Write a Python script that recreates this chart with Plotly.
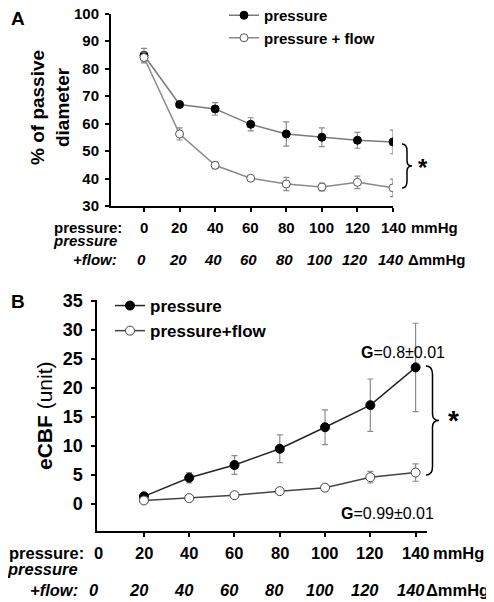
import plotly.graph_objects as go

W, H = 494, 602

# ---------------- data ----------------
pressure_a = [0, 20, 40, 60, 80, 100, 120, 140]
a_pressure = [84.8, 66.9, 65.3, 59.7, 56.2, 55.0, 53.9, 53.3]
a_pressure_err = [2.5, 1.0, 2.3, 2.4, 4.4, 3.4, 2.9, 4.3]
a_flow = [84.0, 56.2, 44.8, 40.1, 38.0, 36.9, 38.6, 36.6]
a_flow_err = [2.0, 2.2, 1.2, 0.8, 2.4, 1.4, 2.3, 3.2]

pressure_b = [20, 40, 60, 80, 100, 120, 140]
b_pressure = [1.3, 4.5, 6.7, 9.5, 13.2, 17.0, 23.5]
b_pressure_err = [0.3, 0.9, 1.6, 2.4, 3.0, 4.5, 7.6]
b_flow = [0.6, 1.0, 1.5, 2.2, 2.8, 4.6, 5.4]
b_flow_err = [0.2, 0.2, 0.3, 0.3, 0.4, 1.0, 1.5]

tick_values = [0, 20, 40, 60, 80, 100, 120, 140]
tick_labels = ["0", "20", "40", "60", "80", "100", "120", "140"]

series_names_a = ["pressure", "pressure + flow"]
series_names_b = ["pressure", "pressure+flow"]

FONT = "Arial, Liberation Sans, sans-serif"
ERR = "#8a8a8a"

# page is shown with an 8px body margin: positions below are in window pixels
OFF = 8


def px(x):
    return (x - OFF) / W


def py(y):
    return 1 - (y - OFF) / H


fig = go.Figure()

# ---- Panel A ----
fig.add_trace(go.Scatter(
    x=pressure_a, y=a_pressure, name=series_names_a[0], mode="lines+markers",
    xaxis="x", yaxis="y", legend="legend",
    line=dict(color="#7a7a7a", width=1.5),
    marker=dict(symbol="circle", size=8, color="black", line=dict(color="black", width=1)),
    error_y=dict(type="data", array=a_pressure_err, color=ERR, thickness=1.2, width=3),
))
fig.add_trace(go.Scatter(
    x=pressure_a, y=a_flow, name=series_names_a[1], mode="lines+markers",
    xaxis="x", yaxis="y", legend="legend",
    line=dict(color="#8a8a8a", width=1.5),
    marker=dict(symbol="circle", size=8, color="white", line=dict(color="#555555", width=1)),
    error_y=dict(type="data", array=a_flow_err, color=ERR, thickness=1.2, width=3),
))

# ---- Panel B ----
fig.add_trace(go.Scatter(
    x=pressure_b, y=b_pressure, name=series_names_b[0], mode="lines+markers",
    xaxis="x2", yaxis="y2", legend="legend2",
    line=dict(color="#262626", width=1.5),
    marker=dict(symbol="circle", size=9, color="black", line=dict(color="black", width=1)),
    error_y=dict(type="data", array=b_pressure_err, color=ERR, thickness=1.2, width=3),
))
fig.add_trace(go.Scatter(
    x=pressure_b, y=b_flow, name=series_names_b[1], mode="lines+markers",
    xaxis="x2", yaxis="y2", legend="legend2",
    line=dict(color="#444444", width=1.5),
    marker=dict(symbol="circle", size=9, color="white", line=dict(color="#444444", width=1)),
    error_y=dict(type="data", array=b_flow_err, color=ERR, thickness=1.2, width=3),
))

axis_common = dict(showgrid=False, zeroline=False, showline=True, linecolor="black",
                   linewidth=2, ticks="outside", tickcolor="black", ticklen=4, tickwidth=1.5,
                   automargin=False, ticklabeloverflow="allow")

fig.update_layout(
    width=W, height=H,
    margin=dict(l=0, r=0, t=0, b=0, autoexpand=False),
    paper_bgcolor="white", plot_bgcolor="white",
    font=dict(family=FONT, color="black"),
    showlegend=True,
    xaxis=dict(domain=[px(111), px(393)], range=[-18.55, 140], anchor="y",
               tickvals=tick_values, showticklabels=False, **axis_common),
    yaxis=dict(domain=[py(206), py(13.5)], range=[30, 100], anchor="x",
               tickvals=[30, 40, 50, 60, 70, 80, 90, 100], ticklabelstandoff=3,
               tickfont=dict(size=15, weight="bold", family=FONT), **axis_common),
    xaxis2=dict(domain=[px(97.3), px(426.7)], range=[-0.6, 144.9], anchor="y2",
                tickvals=pressure_b, showticklabels=False, **axis_common),
    yaxis2=dict(domain=[py(531), py(300)], range=[-4.66, 35.1], anchor="x2",
                tickvals=[0, 5, 10, 15, 20, 25, 30, 35], ticklabelstandoff=5,
                tickfont=dict(size=18, weight="bold", family=FONT), **axis_common),
    legend=dict(x=px(224), y=py(-1), xanchor="left", yanchor="top",
                bgcolor="rgba(0,0,0,0)", font=dict(size=15, weight="bold", family=FONT),
                tracegroupgap=0, itemwidth=30),
    legend2=dict(x=px(110), y=py(288), xanchor="left", yanchor="top",
                 bgcolor="rgba(0,0,0,0)", font=dict(size=17, weight="bold", family=FONT),
                 tracegroupgap=0, itemwidth=30),
)

ann = []
# panel letters
ann.append(dict(text="<b>A</b>", x=px(9), y=py(19), xref="paper", yref="paper",
                xanchor="left", yanchor="middle", showarrow=False, font=dict(size=19)))
ann.append(dict(text="<b>B</b>", x=px(9), y=py(301), xref="paper", yref="paper",
                xanchor="left", yanchor="middle", showarrow=False, font=dict(size=19)))
# y titles
ann.append(dict(text="<b>% of passive<br>diameter</b>", x=px(50), y=py(108), xref="paper", yref="paper",
                xanchor="center", yanchor="middle", textangle=-90, showarrow=False,
                font=dict(size=19)))
ann.append(dict(text="<b>eCBF</b> (unit)", x=px(44), y=py(416), xref="paper", yref="paper",
                xanchor="center", yanchor="middle", textangle=-90, showarrow=False,
                font=dict(size=21)))

# x label rows, panel A
FA = 15
rowA1, rowA2, rowA3 = py(227), py(241), py(259)
ann.append(dict(text="<b>pressure:</b>", x=px(124), y=rowA1, xref="paper", yref="paper",
                xanchor="right", yanchor="middle", showarrow=False, font=dict(size=FA)))
ann.append(dict(text="<b><i>pressure</i></b>", x=px(119), y=rowA2, xref="paper", yref="paper",
                xanchor="right", yanchor="middle", showarrow=False, font=dict(size=FA)))
ann.append(dict(text="<b><i>+flow:</i></b>", x=px(119), y=rowA3, xref="paper", yref="paper",
                xanchor="right", yanchor="middle", showarrow=False, font=dict(size=FA)))
for v, t in zip(tick_values, tick_labels):
    ann.append(dict(text="<b>" + t + "</b>", x=v, y=rowA1, xref="x", yref="paper",
                    xanchor="center", yanchor="middle", showarrow=False, font=dict(size=FA)))
    ann.append(dict(text="<b><i>" + t + "</i></b>", x=v, y=rowA3, xref="x", yref="paper",
                    xanchor="center", yanchor="middle", showarrow=False, font=dict(size=FA),
                    xshift=-2))
ann.append(dict(text="<b>mmHg</b>", x=px(409), y=rowA1, xref="paper", yref="paper",
                xanchor="left", yanchor="middle", showarrow=False, font=dict(size=FA)))
ann.append(dict(text="<b>ΔmmHg</b>", x=px(406), y=rowA3, xref="paper", yref="paper",
                xanchor="left", yanchor="middle", showarrow=False, font=dict(size=FA)))

# x label rows, panel B
FB = 16.5
rowB1, rowB2, rowB3 = py(553), py(569), py(590)
ann.append(dict(text="<b>pressure:</b>", x=px(86), y=rowB1, xref="paper", yref="paper",
                xanchor="right", yanchor="middle", showarrow=False, font=dict(size=FB)))
ann.append(dict(text="<b><i>pressure</i></b>", x=px(80), y=rowB2, xref="paper", yref="paper",
                xanchor="right", yanchor="middle", showarrow=False, font=dict(size=FB)))
ann.append(dict(text="<b><i>+flow:</i></b>", x=px(80), y=rowB3, xref="paper", yref="paper",
                xanchor="right", yanchor="middle", showarrow=False, font=dict(size=FB)))
for v, t in zip(tick_values, tick_labels):
    ann.append(dict(text="<b>" + t + "</b>", x=v, y=rowB1, xref="x2", yref="paper",
                    xanchor="center", yanchor="middle", showarrow=False, font=dict(size=FB)))
    ann.append(dict(text="<b><i>" + t + "</i></b>", x=v, y=rowB3, xref="x2", yref="paper",
                    xanchor="center", yanchor="middle", showarrow=False, font=dict(size=FB),
                    xshift=-5))
ann.append(dict(text="<b>mmHg</b>", x=px(431), y=rowB1, xref="paper", yref="paper",
                xanchor="left", yanchor="middle", showarrow=False, font=dict(size=FB)))
ann.append(dict(text="<b>ΔmmHg</b>", x=px(424), y=rowB3, xref="paper", yref="paper",
                xanchor="left", yanchor="middle", showarrow=False, font=dict(size=FB)))

# G annotations
ann.append(dict(text="<b>G</b>=0.8±0.01", x=px(403), y=py(352), xref="paper", yref="paper",
                xanchor="center", yanchor="middle", showarrow=False, font=dict(size=16)))
ann.append(dict(text="<b>G</b>=0.99±0.01", x=px(387), y=py(513), xref="paper", yref="paper",
                xanchor="center", yanchor="middle", showarrow=False, font=dict(size=16)))

# stars
ann.append(dict(text="<b>*</b>", x=px(423), y=py(167), xref="paper", yref="paper",
                xanchor="center", yanchor="middle", showarrow=False, font=dict(size=24)))
ann.append(dict(text="<b>*</b>", x=px(453), y=py(420), xref="paper", yref="paper",
                xanchor="center", yanchor="middle", showarrow=False, font=dict(size=28)))

fig.update_layout(annotations=ann)


def brace(x0, y0, y1, w):
    # curly brace opening left, tip to the right; window pixels converted to paper
    ym = (y0 + y1) / 2
    c = w / 2
    pts = [
        f"M {px(x0)} {py(y0)}",
        f"Q {px(x0 + c)} {py(y0)} {px(x0 + c)} {py(y0 + c + 2)}",
        f"L {px(x0 + c)} {py(ym - c)}",
        f"Q {px(x0 + c)} {py(ym)} {px(x0 + w)} {py(ym)}",
        f"Q {px(x0 + c)} {py(ym)} {px(x0 + c)} {py(ym + c)}",
        f"L {px(x0 + c)} {py(y1 - c - 2)}",
        f"Q {px(x0 + c)} {py(y1)} {px(x0)} {py(y1)}",
    ]
    return " ".join(pts)


fig.add_shape(type="path", path=brace(402, 144, 188, 10), xref="paper", yref="paper",
              line=dict(color="black", width=1.5))
fig.add_shape(type="path", path=brace(426, 366, 475, 13), xref="paper", yref="paper",
              line=dict(color="black", width=1.5))

fig.write_html("out.html")
